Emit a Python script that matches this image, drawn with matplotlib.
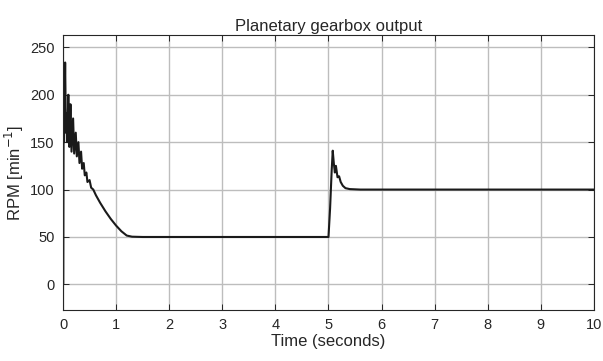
import matplotlib
import matplotlib.pyplot as plt

matplotlib.use("Agg")

plt.rcParams["font.family"] = ["Liberation Sans", "DejaVu Sans"]

# values (seconds, rpm)
time_s = [
    0.0, 0.005, 0.01, 0.02, 0.04, 0.055, 0.07, 0.08, 0.10, 0.12,
    0.14, 0.16, 0.19, 0.21, 0.24, 0.26, 0.29, 0.31, 0.34, 0.36,
    0.39, 0.41, 0.44, 0.46, 0.50, 0.53, 0.57, 0.62, 0.70, 0.80,
    0.90, 1.00, 1.10, 1.20, 1.30, 1.50, 2.00, 5.00, 5.03, 5.06,
    5.08, 5.10, 5.12, 5.14, 5.17, 5.20, 5.23, 5.27, 5.32, 5.40,
    5.60, 10.0,
]
rpm = [
    0, 0, 160, 150, 234, 160, 180, 150, 200, 145,
    190, 140, 175, 138, 160, 135, 150, 128, 140, 122,
    128, 115, 118, 108, 110, 102, 100, 94, 86, 77,
    69, 62, 56, 51.5, 50.3, 50, 50, 50, 80, 120,
    141, 128, 118, 125, 113, 114, 108, 104, 101.5, 100.5,
    100, 100,
]
x_ticks = list(range(0, 11))
y_ticks = [0, 50, 100, 150, 200, 250]

text_color = "#262626"

fig = plt.figure(figsize=(6.03, 3.61), dpi=100)
ax = fig.add_axes([0.1045, 0.1413, 0.8805, 0.7617])

ax.plot(time_s, rpm, color="#1a1a1a", linewidth=1.5)

ax.set_xlim(0, 10)
ax.set_ylim(-27, 263)
ax.set_xticks(x_ticks)
ax.set_yticks(y_ticks)
ax.grid(True, color="#bdbdbd", linewidth=1.0)
ax.set_axisbelow(True)

ax.tick_params(direction="in", length=4, width=0.7, colors=text_color,
               labelsize=10.5, top=True, right=True, labeltop=False,
               labelright=False, pad=6)
for spine in ax.spines.values():
    spine.set_color(text_color)
    spine.set_linewidth(0.8)

ax.set_title("Planetary gearbox output", fontsize=12, color=text_color, pad=3)
ax.set_xlabel("Time (seconds)", fontsize=12, color=text_color, labelpad=1)
ax.set_ylabel("RPM [min$^{-1}$]", fontsize=12, color=text_color, labelpad=3)

fig.savefig("out.png", dpi=100)
